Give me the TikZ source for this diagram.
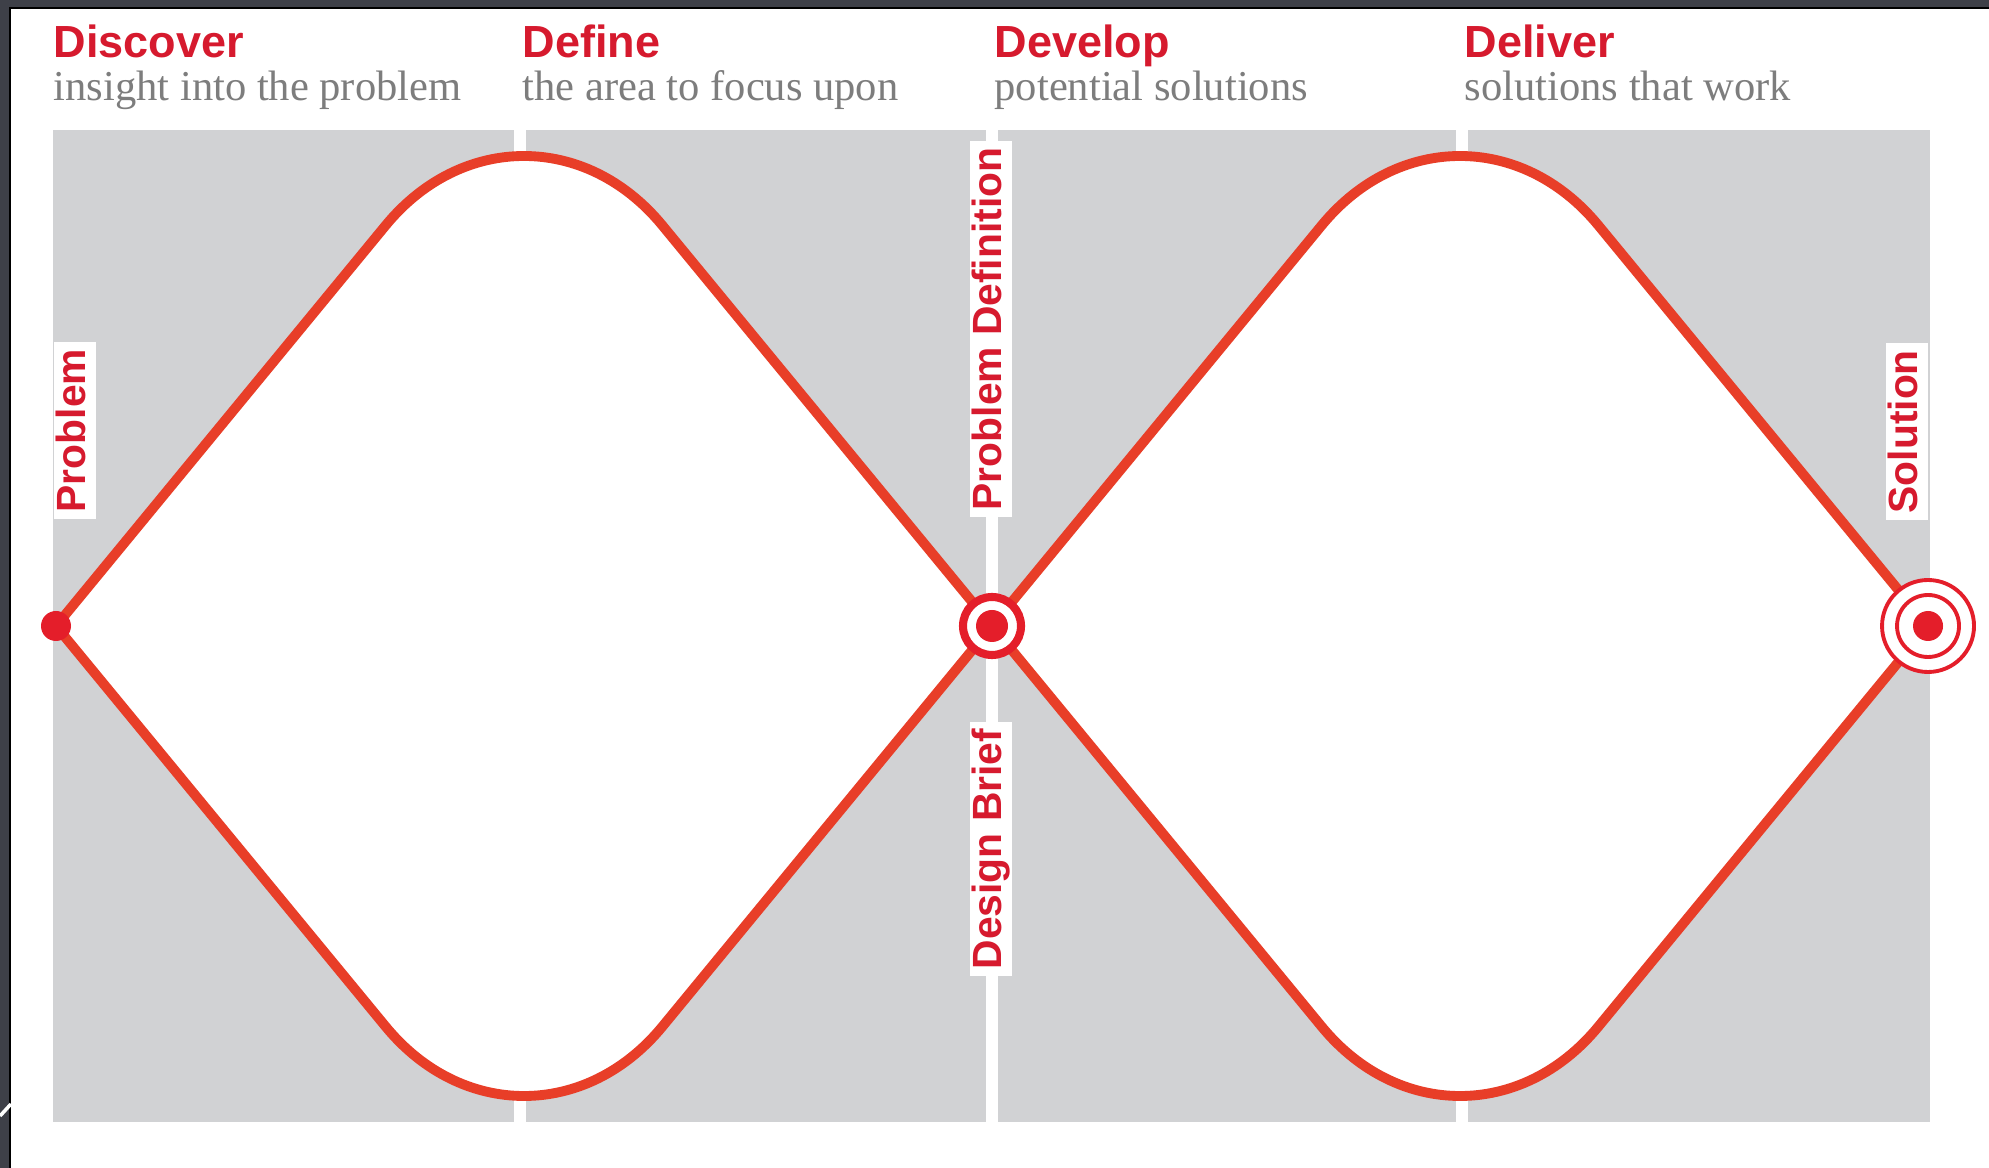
\documentclass[tikz,border=0pt]{standalone}
\usepackage{fontspec}
\setmainfont{Liberation Serif}
\newfontfamily\labelfont{Liberation Sans}
\definecolor{linered}{RGB}{232,62,40}
\definecolor{dotred}{RGB}{228,30,42}
\definecolor{textred}{RGB}{214,26,46}
\definecolor{panelgray}{RGB}{209,210,212}
\definecolor{subgray}{RGB}{125,125,125}
\definecolor{framedark}{RGB}{62,64,72}
\tikzset{
  phase/.style={anchor=base west, inner sep=0pt, text=textred, font=\labelfont\bfseries\fontsize{12.8}{15}\selectfont},
  phasenote/.style={anchor=base west, inner sep=0pt, text=subgray, font=\fontsize{12.1}{14}\selectfont},
  milestone/.style={rotate=90, anchor=west, fill=white, text=textred, inner xsep=2pt, inner ysep=0.6pt,
    text height=8.6pt, text depth=2.4pt, font=\labelfont\bfseries\fontsize{11.6}{14}\selectfont},
  diamondline/.style={draw=linered, fill=white, line width=2.8pt},
  divider/.style={white, line width=3.4pt}
}
\begin{document}
\begin{tikzpicture}[x=0.01cm, y=-0.01cm]
        \useasboundingbox (0,0) rectangle (1989,1168);
        \fill[white] (0,0) rectangle (1989,1168);

        % screenshot frame
        \fill[framedark] (0,0) rectangle (11,1168);
        \fill[framedark] (0,0) rectangle (1989,8);
        \draw[black, line width=0.7pt] (10,1168) -- (10,8) -- (1989,8);
        \draw[white, line width=1pt] (0,1116) -- (11,1104);

        % grey panel split into the four phases
        \fill[panelgray] (53,130) rectangle (1930,1122);
        \foreach \x in {520,992,1462}
            \draw[divider] (\x,130) -- (\x,1122);

        % the two diamonds
        \foreach \cx in {524,1460} {
            \draw[diamondline] ({\cx-468},626) -- ({\cx-138},225)
                .. controls ({\cx-62},133) and ({\cx+62},133) .. ({\cx+138},225)
                -- ({\cx+468},626) -- ({\cx+138},1027)
                .. controls ({\cx+62},1119) and ({\cx-62},1119) .. ({\cx-138},1027) -- cycle;
        }

        % start, brief and end points
        \coordinate (start) at (56,626);
        \coordinate (brief) at (992,626);
        \coordinate (goal) at (1928,626);
        \fill[dotred] (start) circle (15);
        \filldraw[fill=white, draw=dotred, line width=2.3pt] (brief) circle (29);
        \fill[dotred] (brief) circle (16);
        \filldraw[fill=white, draw=dotred, line width=1.1pt] (goal) circle (46);
        \draw[dotred, line width=1.1pt] (goal) circle (31);
        \fill[dotred] (goal) circle (15);

        % phase headings
        \node[phase] (discover) at (53,58) {Discover};
        \node[phasenote] (discoverNote) at (53,101) {insight into the problem};
        \node[phase] (define) at (522,58) {Define};
        \node[phasenote] (defineNote) at (522,101) {the area to focus upon};
        \node[phase] (develop) at (994,58) {Develop};
        \node[phasenote] (developNote) at (994,101) {potential solutions};
        \node[phase] (deliver) at (1464,58) {Deliver};
        \node[phasenote] (deliverNote) at (1464,101) {solutions that work};

        % vertical labels
        \node[milestone] (problemLabel) at (75,520) {Problem};
        \node[milestone] (definitionLabel) at (991,518) {Problem Definition};
        \node[milestone] (briefLabel) at (991,977) {Design Brief};
        \node[milestone] (solutionLabel) at (1907,521) {Solution};
\end{tikzpicture}
\end{document}
